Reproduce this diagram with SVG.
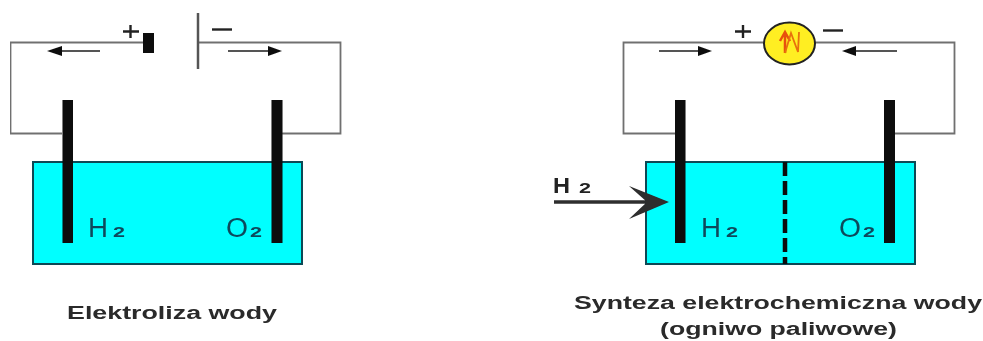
<svg xmlns="http://www.w3.org/2000/svg" width="983" height="341" viewBox="0 0 983 341">
<defs>
<style>
text{font-family:"Liberation Sans",Arial,sans-serif}
.wire{fill:none;stroke:#707070;stroke-width:1.800}
.cell{fill:#00ffff;stroke:#0d4a55;stroke-width:2}
.el{fill:#0a0a0a}
.thin{stroke:#555;stroke-width:1.800;fill:none}
.head{fill:#111}
.sign{stroke:#222;stroke-width:2.400;fill:none}
.chem{font-size:27px;fill:#0d4a5c}
.sub{font-size:14px;font-weight:bold;fill:#0d4a5c}
.cap{font-weight:bold;font-size:18px;fill:#2a2a2a}
</style>
<filter id="soft" x="0" y="0" width="100%" height="100%"><feGaussianBlur stdDeviation="0.55"/></filter>
</defs>
<rect width="983" height="341" fill="#fff"/>
<g filter="url(#soft)">
<g id="connectors">
<path class="wire" d="M143 42.500H10.500V133.500H62"/>
<path class="wire" d="M198 42.500H340.500V133.500H282"/>
<path class="wire" d="M765 42.500H623.500V133.500H675"/>
<path class="wire" d="M815 42.500H954.500V133.500H890"/>
<path class="thin" d="M100 51H62"/><path class="head" d="M47 51L62 46V56Z"/>
<path class="thin" d="M228 51H270"/><path class="head" d="M282 51L268 46V56Z"/>
<path class="thin" d="M659 51H700"/><path class="head" d="M712 51L698 46V56Z"/>
<path class="thin" d="M897 51H855"/><path class="head" d="M842 51L856 46V56Z"/>
</g>
<g id="battery">
<rect class="el" x="143" y="33" width="11" height="20"/>
<path d="M198 13V69" stroke="#555" stroke-width="2.500" fill="none"/>
<path class="sign" d="M123 31.500H139M130.500 25V38"/>
<path class="sign" d="M212 29.500H232"/>
</g>
<g id="cell-left">
<rect class="cell" x="33" y="162" width="269" height="102"/>
<rect class="el" x="62.500" y="100" width="10.500" height="143"/>
<rect class="el" x="271.500" y="100" width="11" height="143"/>
<text class="chem" x="88" y="237" textLength="20" lengthAdjust="spacingAndGlyphs">H</text>
<text class="sub" x="113" y="237" textLength="12" lengthAdjust="spacingAndGlyphs">2</text>
<text class="chem" x="226" y="237" textLength="22" lengthAdjust="spacingAndGlyphs">O</text>
<text class="sub" x="250" y="237" textLength="12" lengthAdjust="spacingAndGlyphs">2</text>
</g>
<g id="meter">
<ellipse cx="789.500" cy="43.500" rx="25.500" ry="21" fill="#ffee22" stroke="#222" stroke-width="2"/>
<path d="M785 32V53M780 41L785 32L790 41" fill="none" stroke="#e8500a" stroke-width="2.500"/>
<path d="M785 53L791 33L798 52L799 32" fill="none" stroke="#e8700a" stroke-width="1.800"/>
<path class="sign" d="M735 31.500H751M743 25V38"/>
<path class="sign" d="M823 30.500H843"/>
</g>
<g id="cell-right">
<rect class="cell" x="646" y="162" width="269" height="102"/>
<path d="M785 162V264" stroke="#0a0a0a" stroke-width="4.500" stroke-dasharray="14 5" fill="none"/>
<rect class="el" x="675" y="100" width="10.500" height="143"/>
<rect class="el" x="884" y="100" width="11" height="143"/>
<text class="chem" x="701" y="237" textLength="20" lengthAdjust="spacingAndGlyphs">H</text>
<text class="sub" x="726" y="237" textLength="12" lengthAdjust="spacingAndGlyphs">2</text>
<text class="chem" x="839" y="237" textLength="22" lengthAdjust="spacingAndGlyphs">O</text>
<text class="sub" x="863" y="237" textLength="12" lengthAdjust="spacingAndGlyphs">2</text>
</g>
<g id="h2-inlet">
<text x="553" y="193" font-size="22" font-weight="bold" fill="#222" textLength="17" lengthAdjust="spacingAndGlyphs">H</text>
<text x="579" y="193" font-size="14" font-weight="bold" fill="#222" textLength="12" lengthAdjust="spacingAndGlyphs">2</text>
<path d="M554 202H650" stroke="#2d2d2d" stroke-width="3.500" fill="none"/>
<path d="M669 202L629 186L647 202L629 219Z" fill="#2d2d2d"/>
</g>
<g id="captions">
<text class="cap" x="67" y="319" textLength="210" lengthAdjust="spacingAndGlyphs">Elektroliza wody</text>
<text class="cap" x="574" y="309" textLength="408" lengthAdjust="spacingAndGlyphs">Synteza elektrochemiczna wody</text>
<text class="cap" x="660" y="335" textLength="237" lengthAdjust="spacingAndGlyphs">(ogniwo paliwowe)</text>
</g>
</g>
</svg>
